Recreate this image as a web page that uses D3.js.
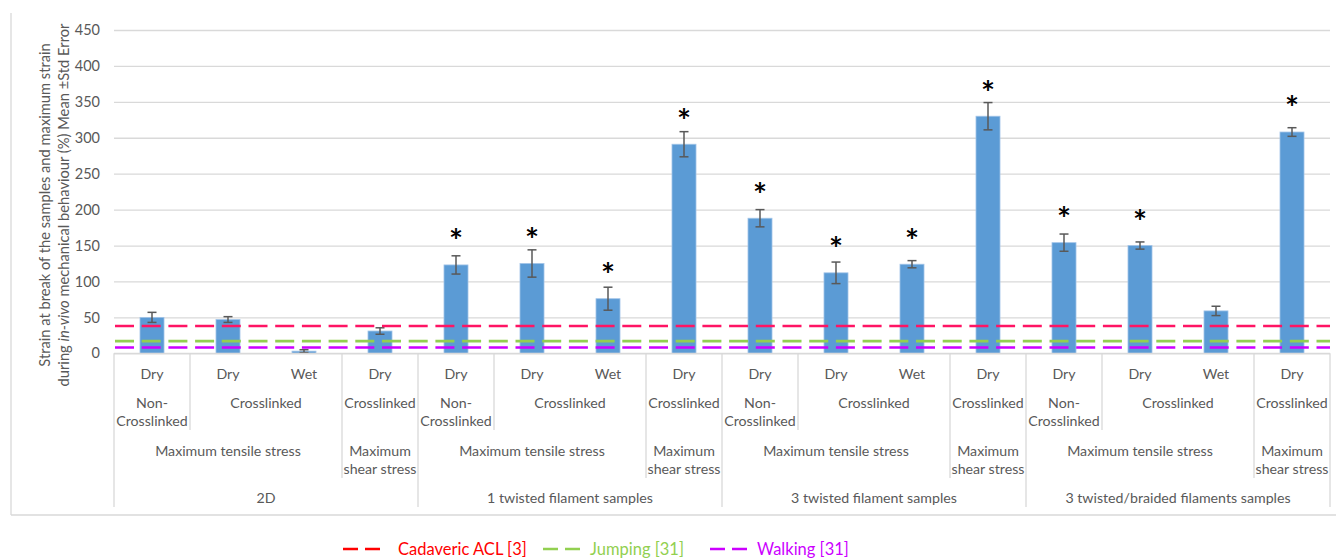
<!DOCTYPE html>
<html>
<head>
<meta charset="utf-8">
<script src="https://cdn.jsdelivr.net/npm/d3@7"></script>
<style>
  html, body { margin: 0; padding: 0; background: #fff; }
  svg { display: block; font-family: Lato, "Open Sans", sans-serif; }
</style>
</head>
<body>
<svg id="chart" width="1336" height="558"></svg>
<script>
// ---- data ----
const sampleType = [
  "2D", "2D", "2D", "2D",
  "1 twisted filament samples", "1 twisted filament samples", "1 twisted filament samples", "1 twisted filament samples",
  "3 twisted filament samples", "3 twisted filament samples", "3 twisted filament samples", "3 twisted filament samples",
  "3 twisted/braided filaments samples", "3 twisted/braided filaments samples", "3 twisted/braided filaments samples", "3 twisted/braided filaments samples"
];
const stressType = [
  "Maximum tensile stress", "Maximum tensile stress", "Maximum tensile stress", "Maximum shear stress",
  "Maximum tensile stress", "Maximum tensile stress", "Maximum tensile stress", "Maximum shear stress",
  "Maximum tensile stress", "Maximum tensile stress", "Maximum tensile stress", "Maximum shear stress",
  "Maximum tensile stress", "Maximum tensile stress", "Maximum tensile stress", "Maximum shear stress"
];
const treatment = [
  "Non-Crosslinked", "Crosslinked", "Crosslinked", "Crosslinked",
  "Non-Crosslinked", "Crosslinked", "Crosslinked", "Crosslinked",
  "Non-Crosslinked", "Crosslinked", "Crosslinked", "Crosslinked",
  "Non-Crosslinked", "Crosslinked", "Crosslinked", "Crosslinked"
];
const condition = [
  "Dry", "Dry", "Wet", "Dry",
  "Dry", "Dry", "Wet", "Dry",
  "Dry", "Dry", "Wet", "Dry",
  "Dry", "Dry", "Wet", "Dry"
];
const meanStrain = [50, 47, 3, 31, 123, 125, 76, 291, 188, 112, 124, 330, 154, 150, 59, 308];
const stdError   = [7, 4, 2, 4.5, 12.7, 19, 16, 17.5, 12, 15, 5, 19, 12, 5, 6.5, 6];
const significant = [false, false, false, false, true, true, true, true, true, true, true, true, true, true, false, true];

const refNames  = ["Cadaveric ACL [3]", "Jumping [31]", "Walking [31]"];
const refValues = [38, 17, 8];
const refColors = ["#FF1464", "#92D050", "#CC00FF"];
const refLegendColors = ["#FF0000", "#92D050", "#CC00FF"];

const yTicks = [0, 50, 100, 150, 200, 250, 300, 350, 400, 450];

// ---- layout ----
const svg = d3.select("#chart");
const plot = { left: 114, right: 1330, top: 30, bottom: 353.3 };
const axisColor = "#D9D9D9";
const textColor = "#595959";

const idx = d3.range(meanStrain.length);
const x = d3.scaleBand().domain(idx).range([plot.left, plot.right]).padding(0);
const y = d3.scaleLinear().domain([0, 450]).range([plot.bottom, plot.top]);
const barW = x.bandwidth() * 0.316;

// outer chart border (left and bottom)
svg.append("line").attr("x1", 11).attr("x2", 11).attr("y1", 13).attr("y2", 515)
  .attr("stroke", axisColor).attr("stroke-width", 1.3);
svg.append("line").attr("x1", 11).attr("x2", 1336).attr("y1", 515).attr("y2", 515)
  .attr("stroke", axisColor).attr("stroke-width", 1.3);

// y axis with gridlines
const yAxis = svg.append("g")
  .attr("transform", `translate(${plot.left},0)`)
  .call(d3.axisLeft(y).tickValues(yTicks).tickSize(-(plot.right - plot.left)).tickPadding(14));
yAxis.select(".domain").remove();
yAxis.selectAll(".tick line").attr("stroke", axisColor).attr("stroke-width", 1.3);
yAxis.selectAll(".tick text").attr("fill", textColor).style("font-size", "14.5px")
  .style("font-family", "Lato, sans-serif");

// y axis title (two lines)
const yTitle = svg.append("g").attr("transform", "translate(0,205)");
yTitle.append("text")
  .attr("transform", "translate(44,0) rotate(-90)")
  .attr("text-anchor", "middle").attr("dominant-baseline", "central")
  .attr("fill", textColor).style("font-size", "14.7px")
  .text("Strain at break of the samples and maximum strain");
const t2 = yTitle.append("text")
  .attr("transform", "translate(62.5,0) rotate(-90)")
  .attr("text-anchor", "middle").attr("dominant-baseline", "central")
  .attr("fill", textColor).style("font-size", "14.7px");
t2.append("tspan").text("during ");
t2.append("tspan").style("font-style", "italic").text("in-vivo");
t2.append("tspan").text(" mechanical behaviour (%) Mean \u00B1Std Error");

// bars
svg.append("g").selectAll("rect").data(idx).join("rect")
  .attr("x", i => x(i) + (x.bandwidth() - barW) / 2)
  .attr("width", barW)
  .attr("y", i => y(meanStrain[i]))
  .attr("height", i => y(0) - y(meanStrain[i]))
  .attr("fill", "#5B9BD5")
  .attr("stroke", "#A2C4E8").attr("stroke-width", 0.8);

// error bars
const eb = svg.append("g").attr("stroke", "#595959").attr("stroke-width", 1.5);
idx.forEach(i => {
  const cx = x(i) + x.bandwidth() / 2;
  const hi = y(meanStrain[i] + stdError[i]);
  const lo = y(Math.max(0, meanStrain[i] - stdError[i]));
  eb.append("line").attr("x1", cx).attr("x2", cx).attr("y1", hi).attr("y2", lo);
  eb.append("line").attr("x1", cx - 4.5).attr("x2", cx + 4.5).attr("y1", hi).attr("y2", hi);
  eb.append("line").attr("x1", cx - 4.5).attr("x2", cx + 4.5).attr("y1", lo).attr("y2", lo);
});

// significance asterisks
svg.append("g").selectAll("text").data(idx.filter(i => significant[i])).join("text")
  .attr("x", i => x(i) + x.bandwidth() / 2)
  .attr("y", i => y(meanStrain[i]) - 32)
  .attr("text-anchor", "middle")
  .attr("dy", "0.62em")
  .style("font-size", "33px").style("font-weight", "bold")
  .style("font-family", "Lato, sans-serif")
  .attr("fill", "#000")
  .text("*");

// reference lines
svg.append("g").selectAll("line").data(refValues).join("line")
  .attr("x1", plot.left).attr("x2", plot.right)
  .attr("y1", d => y(d)).attr("y2", d => y(d))
  .attr("stroke", (d, k) => refColors[k])
  .attr("stroke-width", 2.6)
  .attr("stroke-dasharray", "19,7.7")
  .attr("stroke-dashoffset", -1);

// ---- multi-level category axis ----
const catAxis = svg.append("g");
catAxis.append("line").attr("x1", plot.left).attr("x2", plot.right)
  .attr("y1", plot.bottom).attr("y2", plot.bottom)
  .attr("stroke", axisColor).attr("stroke-width", 1.3);

function runs(keyFn) {
  const out = [];
  idx.forEach(i => {
    const k = keyFn(i);
    if (out.length && out[out.length - 1].key === k) out[out.length - 1].end = i;
    else out.push({ key: k, start: i, end: i });
  });
  return out;
}

const levels = [
  { key: i => i, label: i => condition[i], y: 373, bottom: null },
  { key: i => sampleType[i] + "|" + stressType[i] + "|" + treatment[i], label: i => treatment[i], y: 402, bottom: 430 },
  { key: i => sampleType[i] + "|" + stressType[i], label: i => stressType[i], y: 450, bottom: 478 },
  { key: i => sampleType[i], label: i => sampleType[i], y: 497, bottom: 507 }
];

// boundaries: each boundary extends down to the deepest level it separates
const boundaryDepth = new Map();
levels.forEach(lv => {
  if (lv.bottom === null) return;
  runs(lv.key).forEach(r => {
    [r.start, r.end + 1].forEach(b => boundaryDepth.set(b, Math.max(boundaryDepth.get(b) || 0, lv.bottom)));
  });
});
boundaryDepth.forEach((yb, b) => {
  const xb = b < idx.length ? x(b) : plot.right;
  catAxis.append("line").attr("x1", xb).attr("x2", xb).attr("y1", plot.bottom).attr("y2", yb)
    .attr("stroke", axisColor).attr("stroke-width", 1.3);
});

function wrapWords(str, maxW, measure) {
  const tokens = str.split(/(?<=-)|\s+/);
  const lines = [];
  let cur = "";
  tokens.forEach(tk => {
    const trial = cur === "" ? tk : (cur.endsWith("-") ? cur + tk : cur + " " + tk);
    if (cur !== "" && measure(trial) > maxW) { lines.push(cur); cur = tk; }
    else cur = trial;
  });
  if (cur) lines.push(cur);
  return lines;
}

const probe = svg.append("text").style("font-size", "14.2px").attr("visibility", "hidden");
const measure = s => { probe.text(s); return probe.node().getComputedTextLength(); };

levels.forEach(lv => {
  runs(lv.key).forEach(r => {
    const x0 = x(r.start), x1 = x(r.end) + x.bandwidth();
    const lines = wrapWords(lv.label(r.start), x1 - x0 - 1, measure);
    lines.forEach((ln, k) => {
      catAxis.append("text")
        .attr("x", (x0 + x1) / 2).attr("y", lv.y + k * 18)
        .attr("text-anchor", "middle").attr("dominant-baseline", "central")
        .attr("fill", textColor).style("font-size", "14.2px")
        .text(ln);
    });
  });
});
probe.remove();

// ---- legend ----
const legendLineX = [343, 543, 710];
const legendTextX = [398, 590, 757];
const legend = svg.append("g");
refNames.forEach((name, k) => {
  legend.append("line").attr("x1", legendLineX[k]).attr("x2", legendLineX[k] + 37)
    .attr("y1", 549).attr("y2", 549)
    .attr("stroke", refLegendColors[k]).attr("stroke-width", 2.6)
    .attr("stroke-dasharray", "15,7");
  legend.append("text").attr("x", legendTextX[k]).attr("y", 549).attr("dominant-baseline", "central")
    .attr("fill", refLegendColors[k]).style("font-size", "16.5px").text(name);
});
</script>
</body>
</html>
